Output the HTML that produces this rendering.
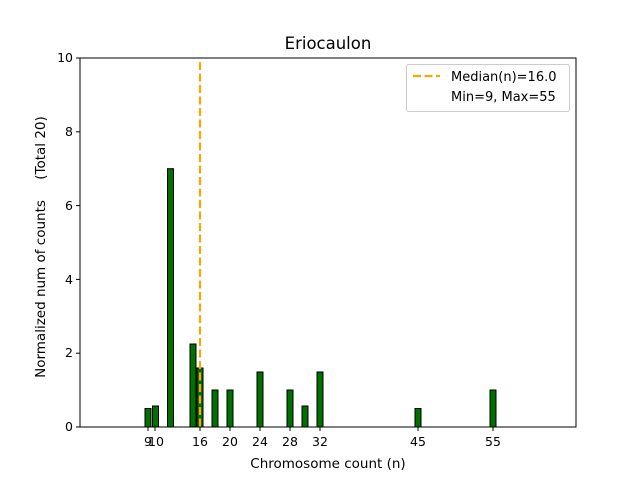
<!DOCTYPE html>
<html><head><style>body{margin:0;background:#fff}svg{display:block}</style></head><body>
<svg width="640" height="480" xmlns="http://www.w3.org/2000/svg" font-family="DejaVu Sans, Liberation Sans, sans-serif">
<rect width="640" height="480" fill="#fff"/>
<g fill="#007000" stroke="#000" stroke-width="1">
<rect x="145" y="408.5" width="6" height="18.5"/>
<rect x="152.5" y="406" width="6" height="21"/>
<rect x="167.5" y="168.7" width="6" height="258.3"/>
<rect x="190" y="344" width="6" height="83"/>
<rect x="197" y="368" width="6" height="59"/>
<rect x="212" y="390" width="6" height="37"/>
<rect x="227" y="390" width="6" height="37"/>
<rect x="257" y="372" width="6" height="55"/>
<rect x="287" y="390" width="6" height="37"/>
<rect x="302" y="406" width="6" height="21"/>
<rect x="317" y="372" width="6" height="55"/>
<rect x="415" y="408.5" width="6" height="18.5"/>
<rect x="490" y="390" width="6" height="37"/>
</g>
<line x1="200" y1="62" x2="200" y2="427" stroke="#FFA500" stroke-width="2.2" stroke-dasharray="8,3.5"/>
<rect x="80" y="58" width="496" height="369" fill="none" stroke="#000" stroke-width="1"/>
<g stroke="#000">
<line x1="80" y1="427" x2="76" y2="427"/><line x1="80" y1="353.2" x2="76" y2="353.2"/><line x1="80" y1="279.4" x2="76" y2="279.4"/><line x1="80" y1="205.6" x2="76" y2="205.6"/><line x1="80" y1="131.8" x2="76" y2="131.8"/><line x1="80" y1="58" x2="76" y2="58"/>
<line x1="148" y1="427" x2="148" y2="431"/><line x1="155" y1="427" x2="155" y2="431"/><line x1="200" y1="427" x2="200" y2="431"/><line x1="230" y1="427" x2="230" y2="431"/><line x1="260" y1="427" x2="260" y2="431"/><line x1="290" y1="427" x2="290" y2="431"/><line x1="320" y1="427" x2="320" y2="431"/><line x1="418" y1="427" x2="418" y2="431"/><line x1="493" y1="427" x2="493" y2="431"/>
</g>
<g font-size="12.5" text-anchor="end">
<text x="73" y="431">0</text><text x="73" y="357">2</text><text x="73" y="284">4</text><text x="73" y="210">6</text><text x="73" y="136">8</text><text x="73" y="62">10</text>
</g>
<g font-size="12.5" text-anchor="middle">
<text x="148" y="446">9</text><text x="156" y="446">10</text><text x="200" y="446">16</text><text x="230" y="446">20</text><text x="260" y="446">24</text><text x="290" y="446">28</text><text x="320" y="446">32</text><text x="418" y="446">45</text><text x="493" y="446">55</text>
<text x="328" y="468" font-size="13.5">Chromosome count (n)</text>
<text x="328" y="49" font-size="16.5">Eriocaulon</text>
</g>
<text transform="translate(45,289) rotate(-90)" font-size="13.5" text-anchor="middle">Normalized num of counts</text>
<text transform="translate(45,148) rotate(-90)" font-size="13.5" text-anchor="middle">(Total 20)</text>
<rect x="406.5" y="64.5" width="163" height="47" rx="2" fill="#fff" stroke="#ccc"/>
<line x1="413" y1="76" x2="440" y2="76" stroke="#FFA500" stroke-width="2.2" stroke-dasharray="8,3.5"/>
<text x="451" y="81" font-size="13">Median(n)=16.0</text>
<text x="451" y="101" font-size="13">Min=9, Max=55</text>
</svg>
</body></html>
